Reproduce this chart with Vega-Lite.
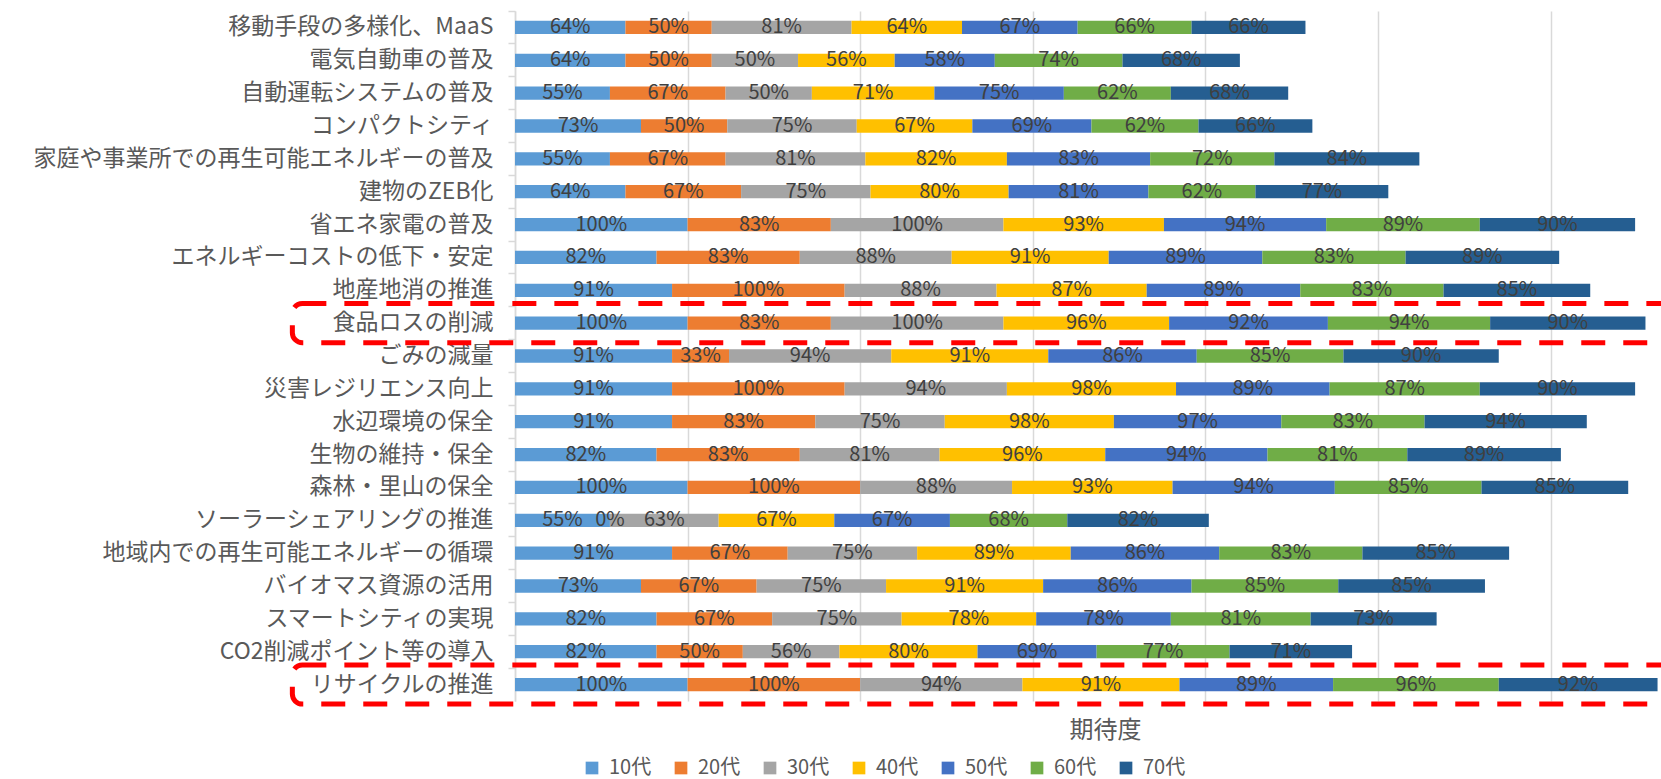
{
  "$schema": "https://vega.github.io/schema/vega-lite/v6.json",
  "usermeta": {"embedOptions": {"actions": false}},
  "autosize": {"type": "none"},
  "padding": {"left": 515, "top": 11, "right": 0, "bottom": 78},
  "width": 1146,
  "height": 690,
  "background": "white",
  "datasets": {
    "expect": [
      {"item": "移動手段の多様化、MaaS", "10代": 0.64, "20代": 0.50, "30代": 0.81, "40代": 0.64, "50代": 0.67, "60代": 0.66, "70代": 0.66},
      {"item": "電気自動車の普及", "10代": 0.64, "20代": 0.50, "30代": 0.50, "40代": 0.56, "50代": 0.58, "60代": 0.74, "70代": 0.68},
      {"item": "自動運転システムの普及", "10代": 0.55, "20代": 0.67, "30代": 0.50, "40代": 0.71, "50代": 0.75, "60代": 0.62, "70代": 0.68},
      {"item": "コンパクトシティ", "10代": 0.73, "20代": 0.50, "30代": 0.75, "40代": 0.67, "50代": 0.69, "60代": 0.62, "70代": 0.66},
      {"item": "家庭や事業所での再生可能エネルギーの普及", "10代": 0.55, "20代": 0.67, "30代": 0.81, "40代": 0.82, "50代": 0.83, "60代": 0.72, "70代": 0.84},
      {"item": "建物のZEB化", "10代": 0.64, "20代": 0.67, "30代": 0.75, "40代": 0.80, "50代": 0.81, "60代": 0.62, "70代": 0.77},
      {"item": "省エネ家電の普及", "10代": 1.00, "20代": 0.83, "30代": 1.00, "40代": 0.93, "50代": 0.94, "60代": 0.89, "70代": 0.90},
      {"item": "エネルギーコストの低下・安定", "10代": 0.82, "20代": 0.83, "30代": 0.88, "40代": 0.91, "50代": 0.89, "60代": 0.83, "70代": 0.89},
      {"item": "地産地消の推進", "10代": 0.91, "20代": 1.00, "30代": 0.88, "40代": 0.87, "50代": 0.89, "60代": 0.83, "70代": 0.85},
      {"item": "食品ロスの削減", "10代": 1.00, "20代": 0.83, "30代": 1.00, "40代": 0.96, "50代": 0.92, "60代": 0.94, "70代": 0.90},
      {"item": "ごみの減量", "10代": 0.91, "20代": 0.33, "30代": 0.94, "40代": 0.91, "50代": 0.86, "60代": 0.85, "70代": 0.90},
      {"item": "災害レジリエンス向上", "10代": 0.91, "20代": 1.00, "30代": 0.94, "40代": 0.98, "50代": 0.89, "60代": 0.87, "70代": 0.90},
      {"item": "水辺環境の保全", "10代": 0.91, "20代": 0.83, "30代": 0.75, "40代": 0.98, "50代": 0.97, "60代": 0.83, "70代": 0.94},
      {"item": "生物の維持・保全", "10代": 0.82, "20代": 0.83, "30代": 0.81, "40代": 0.96, "50代": 0.94, "60代": 0.81, "70代": 0.89},
      {"item": "森林・里山の保全", "10代": 1.00, "20代": 1.00, "30代": 0.88, "40代": 0.93, "50代": 0.94, "60代": 0.85, "70代": 0.85},
      {"item": "ソーラーシェアリングの推進", "10代": 0.55, "20代": 0.00, "30代": 0.63, "40代": 0.67, "50代": 0.67, "60代": 0.68, "70代": 0.82},
      {"item": "地域内での再生可能エネルギーの循環", "10代": 0.91, "20代": 0.67, "30代": 0.75, "40代": 0.89, "50代": 0.86, "60代": 0.83, "70代": 0.85},
      {"item": "バイオマス資源の活用", "10代": 0.73, "20代": 0.67, "30代": 0.75, "40代": 0.91, "50代": 0.86, "60代": 0.85, "70代": 0.85},
      {"item": "スマートシティの実現", "10代": 0.82, "20代": 0.67, "30代": 0.75, "40代": 0.78, "50代": 0.78, "60代": 0.81, "70代": 0.73},
      {"item": "CO2削減ポイント等の導入", "10代": 0.82, "20代": 0.50, "30代": 0.56, "40代": 0.80, "50代": 0.69, "60代": 0.77, "70代": 0.71},
      {"item": "リサイクルの推進", "10代": 1.00, "20代": 1.00, "30代": 0.94, "40代": 0.91, "50代": 0.89, "60代": 0.96, "70代": 0.92}
    ],
    "highlight": [
      {"item": "食品ロスの削減"},
      {"item": "リサイクルの推進"}
    ]
  },
  "encoding": {
    "y": {
      "field": "item",
      "type": "nominal",
      "sort": [
        "移動手段の多様化、MaaS", "電気自動車の普及", "自動運転システムの普及", "コンパクトシティ",
        "家庭や事業所での再生可能エネルギーの普及", "建物のZEB化", "省エネ家電の普及",
        "エネルギーコストの低下・安定", "地産地消の推進", "食品ロスの削減", "ごみの減量",
        "災害レジリエンス向上", "水辺環境の保全", "生物の維持・保全", "森林・里山の保全",
        "ソーラーシェアリングの推進", "地域内での再生可能エネルギーの循環", "バイオマス資源の活用",
        "スマートシティの実現", "CO2削減ポイント等の導入", "リサイクルの推進"
      ],
      "scale": {"paddingInner": 0, "paddingOuter": 0},
      "axis": {
        "title": null,
        "bandPosition": 0,
        "labelOffset": 0,
        "ticks": true,
        "tickSize": 7,
        "tickColor": "#d9d9d9",
        "tickWidth": 1.5,
        "domainColor": "#d9d9d9",
        "domainWidth": 1.5,
        "labelPadding": 15,
        "labelFont": "Noto Sans CJK JP",
        "labelFontSize": 23,
        "labelColor": "#595959",
        "labelLimit": 0,
        "grid": false
      }
    }
  },
  "layer": [
    {
      "data": {"name": "expect"},
      "transform": [
        {"fold": ["10代", "20代", "30代", "40代", "50代", "60代", "70代"], "as": ["age", "value"]}
      ],
      "mark": {"type": "bar", "height": {"band": 0.405}},
      "encoding": {
        "x": {
          "field": "value",
          "type": "quantitative",
          "stack": "zero",
          "scale": {"domain": [0, 6.64], "nice": false, "zero": true},
          "axis": {
            "values": [0, 1, 2, 3, 4, 5, 6],
            "labels": false,
            "ticks": false,
            "domain": false,
            "grid": true,
            "gridColor": "#d9d9d9",
            "gridWidth": 1.5,
            "title": "期待度",
            "titleFont": "Noto Sans CJK JP",
            "titleFontSize": 24,
            "titleFontWeight": "normal",
            "titleColor": "#595959",
            "titleX": 590,
            "titleY": 29,
            "titleAlign": "center",
            "titleBaseline": "middle"
          }
        },
        "color": {
          "field": "age",
          "type": "nominal",
          "scale": {
            "domain": ["10代", "20代", "30代", "40代", "50代", "60代", "70代"],
            "range": ["#5B9BD5", "#ED7D31", "#A5A5A5", "#FFC000", "#4472C4", "#70AD47", "#255E91"]
          },
          "legend": {
            "title": null,
            "orient": "none",
            "direction": "horizontal",
            "legendX": 67,
            "legendY": 747,
            "padding": 0,
            "symbolType": "square",
            "symbolSize": 161,
            "symbolStrokeWidth": 0,
            "labelFont": "Noto Sans CJK JP",
            "labelFontSize": 20,
            "labelColor": "#595959",
            "labelOffset": 7,
            "columnPadding": 19
          }
        },
        "order": {"field": "age", "sort": "ascending"}
      }
    },
    {
      "data": {"name": "expect"},
      "transform": [
        {"fold": ["10代", "20代", "30代", "40代", "50代", "60代", "70代"], "as": ["age", "value"]}
      ],
      "mark": {
        "type": "text",
        "font": "Noto Sans CJK JP",
        "fontSize": 20,
        "color": "#404040",
        "align": "center",
        "baseline": "middle"
      },
      "encoding": {
        "x": {"field": "value", "type": "quantitative", "stack": "zero", "bandPosition": 0.5},
        "detail": {"field": "age", "type": "nominal"},
        "order": {"field": "age", "sort": "ascending"},
        "text": {"field": "value", "type": "quantitative", "format": ".0%"}
      }
    },
    {
      "data": {"name": "highlight"},
      "mark": {
        "type": "rect",
        "height": {"band": 1.19},
        "fillOpacity": 0,
        "fill": "white",
        "stroke": "#FF0000",
        "strokeWidth": 5,
        "strokeDash": [24, 18],
        "cornerRadius": 10,
        "clip": false
      },
      "encoding": {
        "x": {"datum": -1.29, "type": "quantitative"},
        "x2": {"datum": 7.2}
      }
    }
  ],
  "config": {
    "view": {"stroke": null},
    "font": "Noto Sans CJK JP"
  }
}
